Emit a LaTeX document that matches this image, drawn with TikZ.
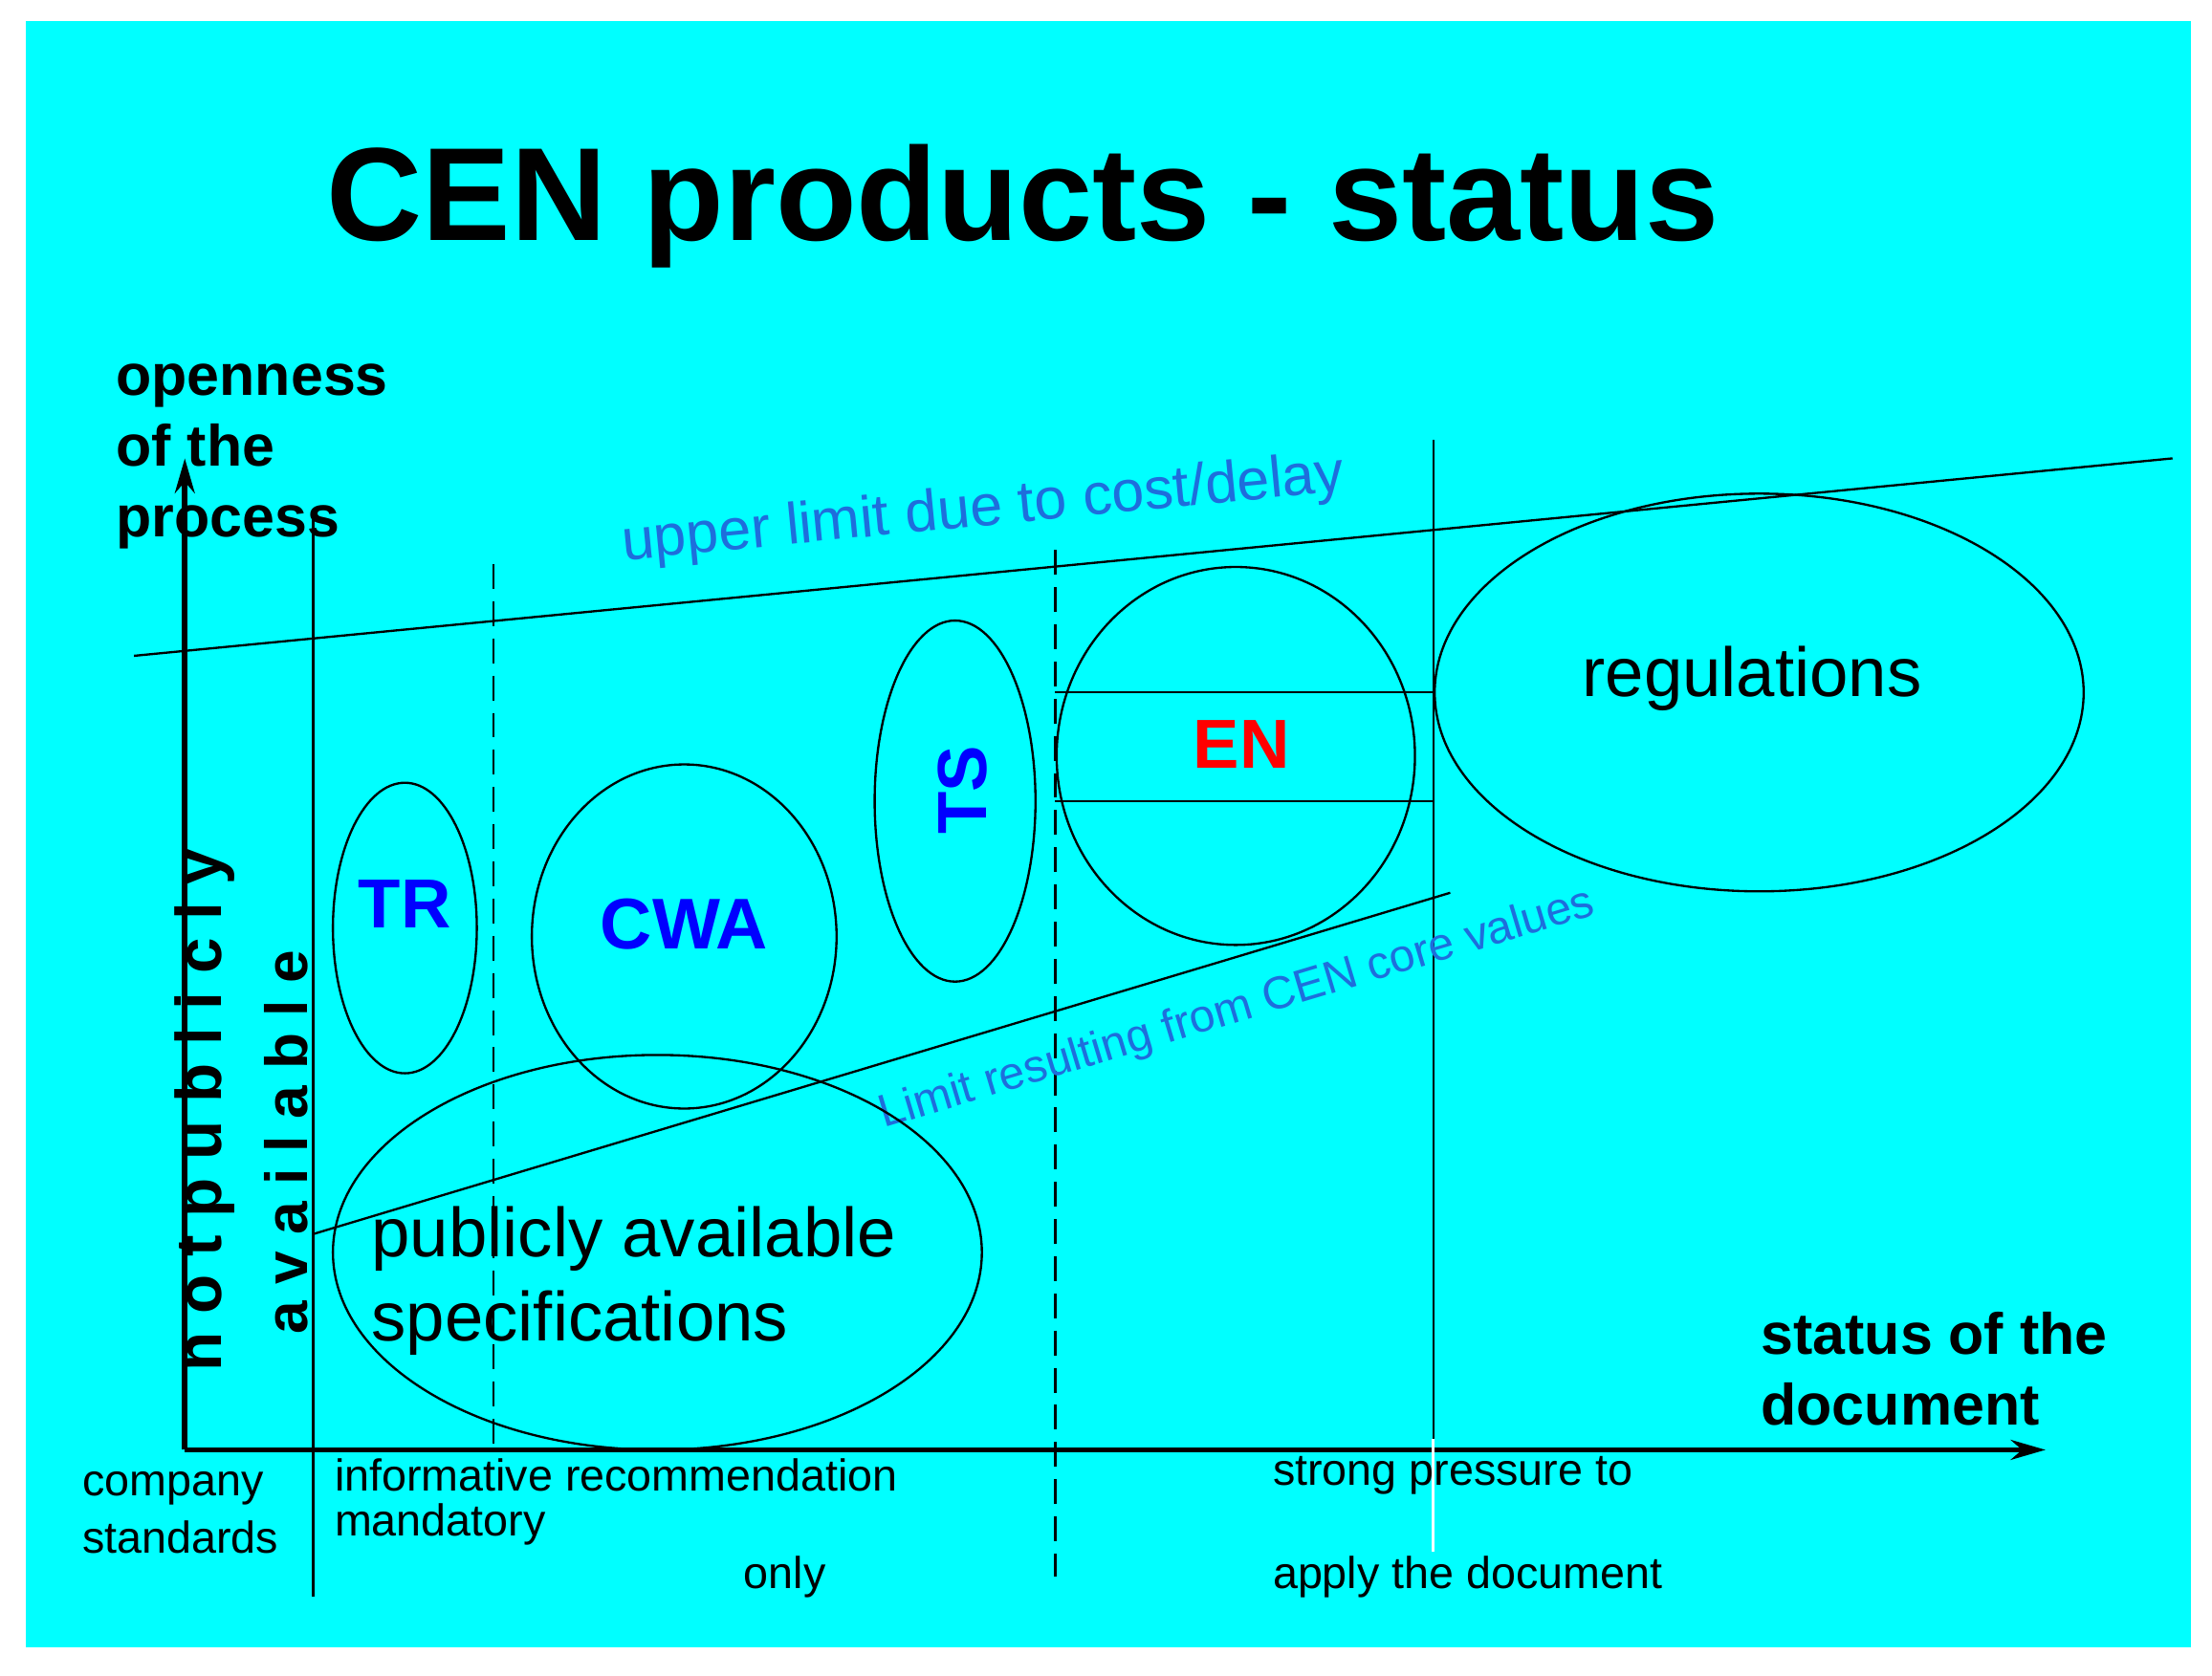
\documentclass[tikz,border=0pt]{standalone}
\usepackage{fontspec}
\setmainfont{Liberation Sans}
\usetikzlibrary{arrows.meta}
\definecolor{bg}{RGB}{0,255,255}
\definecolor{lblue}{RGB}{30,110,220}
\begin{document}
\begin{tikzpicture}[x=0.02cm,y=-0.02cm,
  ln/.style={line width=0.9pt},
  ell/.style={draw,line width=0.9pt},
  ax/.style={line width=2.2pt,-{Stealth[length=14pt,width=8pt]}},
  lab/.style={font=\fontsize{23.5}{28.5}\selectfont\bfseries,align=left,inner sep=0},
  small/.style={font=\fontsize{18}{20}\selectfont,align=left,inner sep=0,anchor=west},
  prod/.style={font=\fontsize{28}{30}\selectfont\bfseries,text=blue,inner sep=0}]
\useasboundingbox (0,0) rectangle (1568,1188);
\fill[white] (0,0) rectangle (1568,1188);
\fill[bg] (18,15) rectangle (1553,1168);
\node[font=\fontsize{53.5}{60}\selectfont\bfseries,inner sep=0] (title) at (725,146) {CEN products - status};
% axes
\coordinate (o) at (131,1028);
\coordinate (yt) at (131,325);
\coordinate (xt) at (1450,1028);
\draw[ax] (o) -- (yt);
\draw[ax] (o) -- (xt);
% verticals
\draw[ln] (222,365) -- (222,1132);
\draw[ln,dash pattern=on 10pt off 5pt] (350,400) -- (350,1030);
\draw[ln,dash pattern=on 10pt off 5pt] (748,390) -- (748,1118);
\draw[ln] (1016,312) -- (1016,1020);
\draw[white,line width=1pt] (1016,1020) -- (1016,1100);
% limit lines
\coordinate (u1) at (95,465); \coordinate (u2) at (1540,325);
\draw[ln] (u1) -- (u2);
\node[text=lblue,rotate=5.5,font=\fontsize{23.5}{26}\selectfont] (ul) at (697,362) {upper limit due to cost/delay};
\coordinate (l1) at (222,875); \coordinate (l2) at (1028,633);
\draw[ln] (l1) -- (l2);
\node[text=lblue,rotate=16.7,font=\fontsize{18.5}{22}\selectfont] (ll) at (877,716) {Limit resulting from CEN core values};
% ellipses
\draw[ell] (287,658) ellipse [x radius=51,y radius=103];
\draw[ell] (485,664) ellipse [x radius=108,y radius=122];
\draw[ell] (677,568) ellipse [x radius=57,y radius=128];
\draw[ell] (876,536) ellipse [x radius=127,y radius=134];
\draw[ell] (1247,491) ellipse [x radius=230,y radius=141];
\draw[ell] (466,888) ellipse [x radius=230,y radius=140];
\draw[ln] (748,491) -- (1016,491);
\draw[ln] (748,568) -- (1016,568);
% product labels
\node[prod] (tr) at (287,641) {TR};
\node[prod,font=\fontsize{29}{30}\selectfont\bfseries] (cwa) at (485,655) {CWA};
\node[prod,rotate=90] (ts) at (682,560) {TS};
\node[prod,text=red] (en) at (880,528) {EN};
\node[font=\fontsize{28}{30}\selectfont,inner sep=0] (reg) at (1242,481) {regulations};
\node[font=\fontsize{28}{34}\selectfont,align=left,inner sep=0,anchor=north west] (pas) at (263,855) {publicly available\\specifications};
% rotated side text
\node[rotate=90,font=\fontsize{26}{28}\selectfont\bfseries,inner sep=0] (np) at (145,787) {n o t p u b l i c l y};
\node[rotate=90,font=\fontsize{24}{26}\selectfont\bfseries,inner sep=0] (av) at (203,810) {a v a i l a b l e};
% axis labels
\node[lab,anchor=north west] (oy) at (82,258) {openness\\of the\\process};
\node[lab,anchor=north west] (sx) at (1248,930) {status of the\\document};
% bottom labels
\node[small] (c1) at (58,1055) {company};
\node[small] (c2) at (58,1090) {standards};
\node[small] (i1) at (237,1046) {informative recommendation};
\node[small] (i2) at (237,1081) {mandatory};
\node[small] (i3) at (527,1118) {only};
\node[small] (s1) at (902,1046) {strong pressure to};
\node[small] (s2) at (902,1118) {apply the document};
\end{tikzpicture}
\end{document}
